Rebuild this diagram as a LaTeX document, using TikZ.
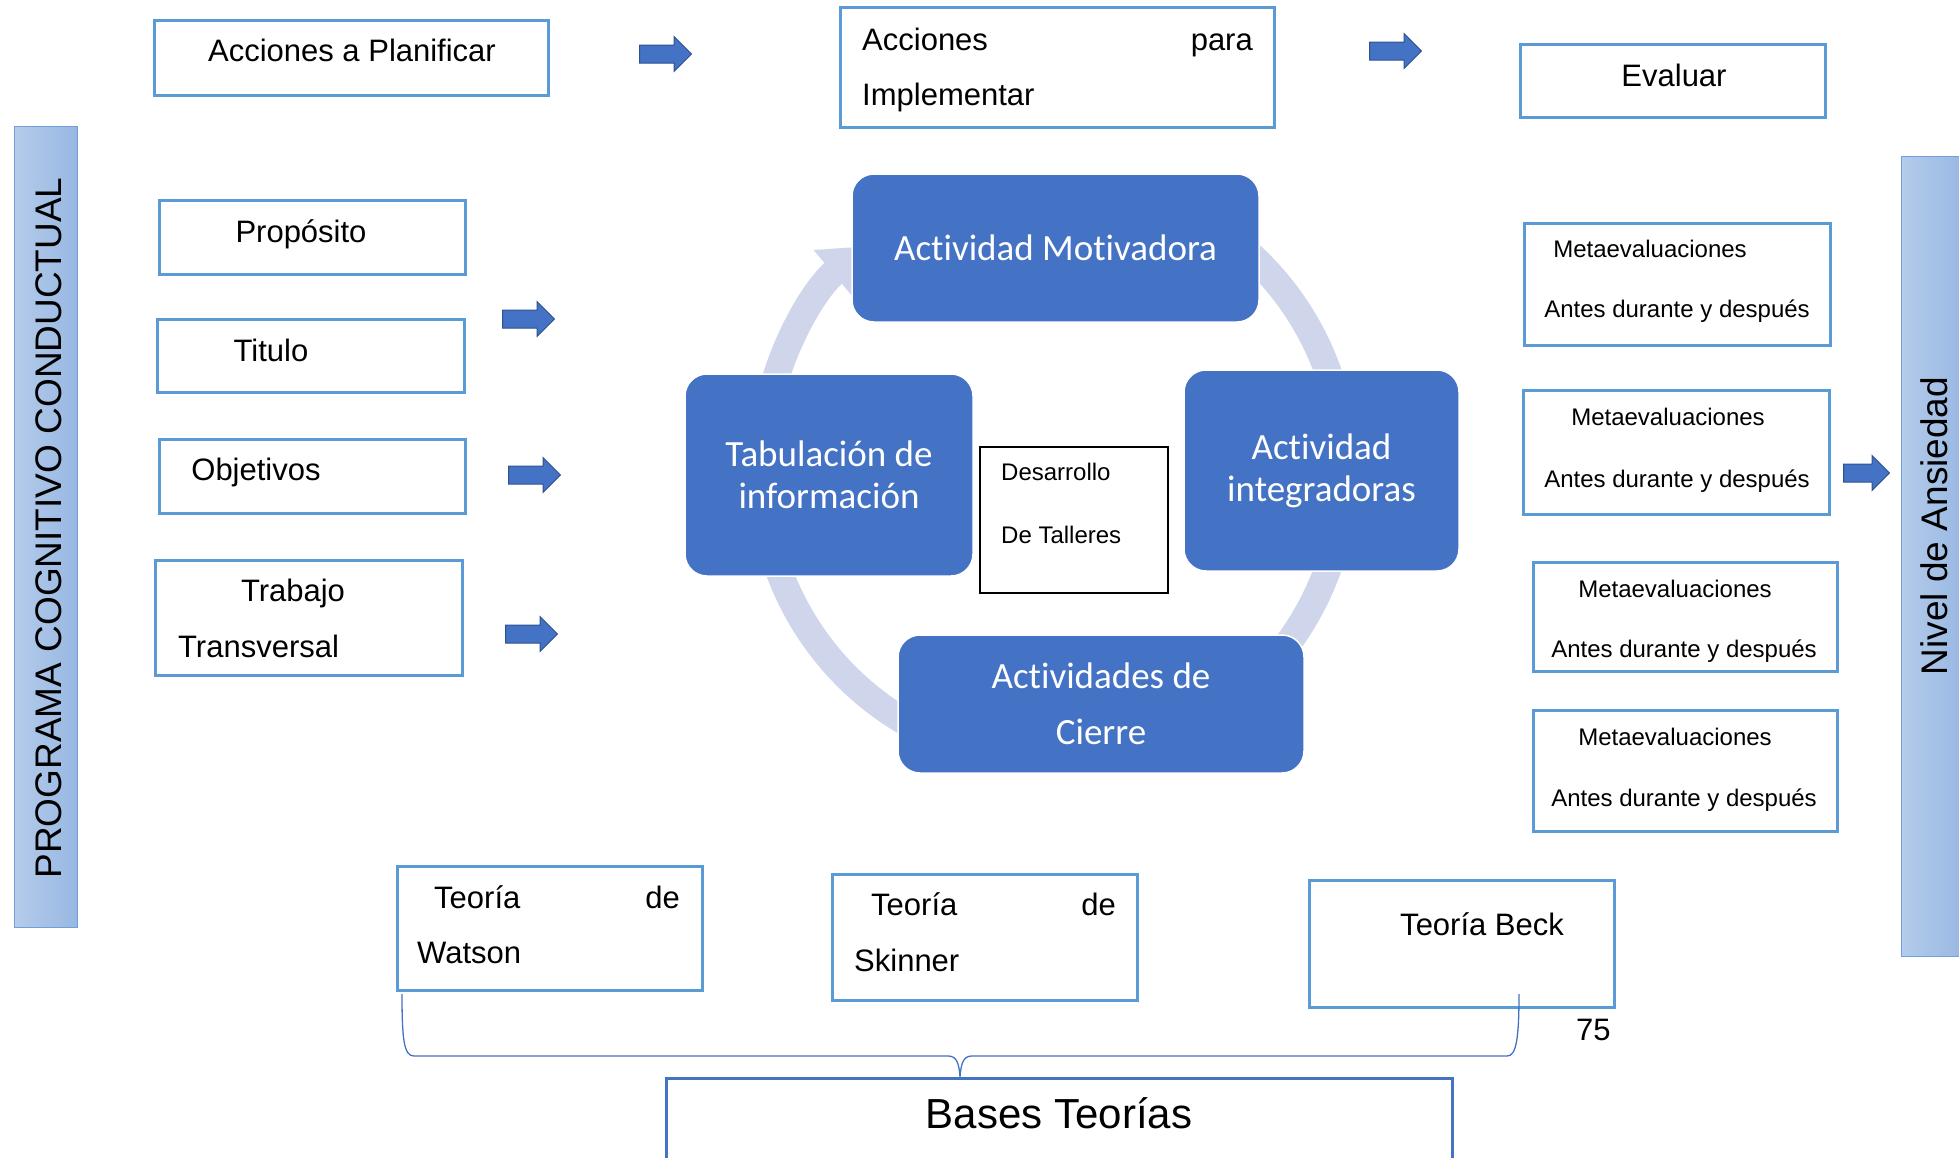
\documentclass[tikz,border=0pt]{standalone}
\usepackage{fontspec}
\setmainfont{Liberation Sans}
\newfontfamily\calibri[Ligatures=NoCommon]{Carlito}
\usetikzlibrary{shapes.arrows,arrows.meta}

\definecolor{boxline}{HTML}{5B9BD5}
\definecolor{cycblue}{HTML}{4472C4}
\definecolor{ringcol}{HTML}{CFD5EA}
\definecolor{arrline}{HTML}{2F528F}
\definecolor{barleft}{HTML}{B5CCEB}
\definecolor{barright}{HTML}{97B7E2}
\definecolor{barline}{HTML}{6FA0DA}

\tikzset{
  wbox/.style={draw=boxline, line width=3pt, fill=white, inner sep=0pt},
  cycbox/.style={fill=cycblue, draw=white, line width=1.5pt, rounded corners=22pt, text=white,
    font=\calibri\fontsize{37}{42}\selectfont, align=center, inner sep=0pt},
  txt/.style={font=\fontsize{31}{55}\selectfont, inner sep=0pt, anchor=base},
  smalltxt/.style={font=\fontsize{24}{30}\selectfont, inner sep=0pt, anchor=base},
  bartxt/.style={font=\fontsize{37}{40}\selectfont, inner sep=0pt, anchor=base, rotate=90},
  bararr/.style={single arrow, fill=cycblue, draw=arrline, line width=1pt, minimum height=52pt,
    inner xsep=0pt, inner ysep=8.5pt, single arrow head extend=8.5pt},
  sidebar/.style={left color=barleft, right color=barright, draw=barline, line width=1pt, inner sep=0pt},
  ring/.style={draw=ringcol, line width=27pt},
}

\begin{document}
\begin{tikzpicture}[x=1pt, y=-1pt]
    \useasboundingbox (0,0) rectangle (1959,1157);

    % side bars
    \node[sidebar, minimum width=63pt, minimum height=801pt] (prog) at (45.5,526.5) {};
    \node[sidebar, minimum width=64pt, minimum height=800pt] (nivel) at (1933,556) {};
    \node[bartxt] (progt) at (61,528) {PROGRAMA COGNITIVO CONDUCTUAL};
    \node[bartxt] (nivelt) at (1947,526) {Nivel de Ansiedad};

    % top row
    \node[wbox, minimum width=394pt, minimum height=75pt] (plan) at (351,57.5) {};
    \node[wbox, minimum width=434pt, minimum height=120pt] (impl) at (1057,67) {};
    \node[wbox, minimum width=305pt, minimum height=73pt] (eval) at (1672.5,80.5) {};
    \node[txt] (plant) at (352,61) {Acciones a Planificar};
    \node[txt, anchor=base west] (implt1) at (862,50) {Acciones};
    \node[txt, anchor=base east] (implt2) at (1253,50) {para};
    \node[txt, anchor=base west] (implt3) at (862,105) {Implementar};
    \node[txt] (evalt) at (1674,86) {Evaluar};
    \node[bararr] (ar1) at (661,54) {};
    \node[bararr] (ar2) at (1391,51) {};

    % left column
    \node[wbox, minimum width=306pt, minimum height=74pt] (prop) at (312,237) {};
    \node[wbox, minimum width=307pt, minimum height=73pt] (tit) at (310.5,355.5) {};
    \node[wbox, minimum width=306pt, minimum height=74pt] (obj) at (312,476) {};
    \node[wbox, minimum width=307pt, minimum height=115pt] (trab) at (308.5,617.5) {};
    \node[txt] (propt) at (301,242) {Propósito};
    \node[txt] (titt) at (271,361) {Titulo};
    \node[txt] (objt) at (256,480) {Objetivos};
    \node[txt] (trabt1) at (293,601) {Trabajo};
    \node[txt, anchor=base west] (trabt2) at (178,657) {Transversal};
    \node[bararr] (ar3) at (524,319) {};
    \node[bararr] (ar4) at (530,475) {};
    \node[bararr] (ar5) at (527,634) {};

    % cycle
    \coordinate (cyc) at (1053,470);
    \draw[ring, -{Triangle[length=42pt, width=58pt]}] ([shift={(190:292)}]cyc) arc[start angle=190, end angle=230, radius=292];
    \draw[ring] ([shift={(310:292)}]cyc) arc[start angle=310, end angle=350, radius=292];
    \draw[ring] ([shift={(10:292)}]cyc) arc[start angle=10, end angle=45, radius=292];
    \draw[ring] ([shift={(115:292)}]cyc) arc[start angle=115, end angle=170, radius=292];

    \node[cycbox, minimum width=407pt, minimum height=148pt] (moti) at (1055.5,248) {Actividad Motivadora};
    \node[cycbox, minimum width=288pt, minimum height=202pt] (tabu) at (829,475) {Tabulación de\\información};
    \node[cycbox, minimum width=275pt, minimum height=201pt] (integ) at (1321.5,470.5) {Actividad\\integradoras};
    \node[cycbox, minimum width=406pt, minimum height=138pt] (cierre) at (1101,704) {Actividades de\\[14pt]Cierre};

    \node[draw=black, line width=2pt, fill=white, minimum width=188pt, minimum height=146pt] (taller) at (1074,520) {};
    \node[smalltxt, anchor=base west] (tallert1) at (1001,480) {Desarrollo};
    \node[smalltxt, anchor=base west] (tallert2) at (1001,543) {De Talleres};

    % right column
    \node[wbox, minimum width=306pt, minimum height=122pt] (meta1) at (1677,284) {};
    \node[wbox, minimum width=306pt, minimum height=124pt] (meta2) at (1676,452) {};
    \node[wbox, minimum width=304pt, minimum height=109pt] (meta3) at (1685,616.5) {};
    \node[wbox, minimum width=304pt, minimum height=121pt] (meta4) at (1685,770.5) {};
    \node[smalltxt] (meta1a) at (1650,257) {Metaevaluaciones};
    \node[smalltxt] (meta1b) at (1677,317) {Antes durante y después};
    \node[smalltxt] (meta2a) at (1668,425) {Metaevaluaciones};
    \node[smalltxt] (meta2b) at (1677,487) {Antes durante y después};
    \node[smalltxt] (meta3a) at (1675,597) {Metaevaluaciones};
    \node[smalltxt] (meta3b) at (1684,657) {Antes durante y después};
    \node[smalltxt] (meta4a) at (1675,745) {Metaevaluaciones};
    \node[smalltxt] (meta4b) at (1684,806) {Antes durante y después};
    \node[bararr, minimum height=46pt] (ar6) at (1862,473) {};

    % theories
    \node[wbox, minimum width=305pt, minimum height=124pt] (wats) at (549.5,928) {};
    \node[wbox, minimum width=305pt, minimum height=126pt] (skin) at (984.5,937) {};
    \node[wbox, minimum width=305pt, minimum height=127pt] (beck) at (1461.5,943.5) {};
    \node[txt, anchor=base west] (watst1) at (434,908) {Teoría};
    \node[txt, anchor=base east] (watst2) at (680,908) {de};
    \node[txt, anchor=base west] (watst3) at (417,963) {Watson};
    \node[txt, anchor=base west] (skint1) at (871,915) {Teoría};
    \node[txt, anchor=base east] (skint2) at (1116,915) {de};
    \node[txt, anchor=base west] (skint3) at (854,971) {Skinner};
    \node[txt, anchor=base west] (beckt) at (1400,935) {Teoría Beck};
    \node[txt, anchor=base west] (page) at (1576,1040) {75};

    \draw[cycblue, line width=1.3pt] (402,994) .. controls (402,1040) and (404,1056) .. (414,1056) -- (948,1056)
      .. controls (956,1056) and (959,1062) .. (960,1077) .. controls (961,1062) and (964,1056) .. (972,1056)
      -- (1507,1056) .. controls (1516,1056) and (1519,1040) .. (1519,994);

    \node[wbox, draw=cycblue, minimum width=786pt, minimum height=100pt] (bases) at (1059,1128) {};
    \node[txt, font=\fontsize{42}{50}\selectfont] (basest) at (1059,1128) {Bases Teorías};
\end{tikzpicture}
\end{document}
